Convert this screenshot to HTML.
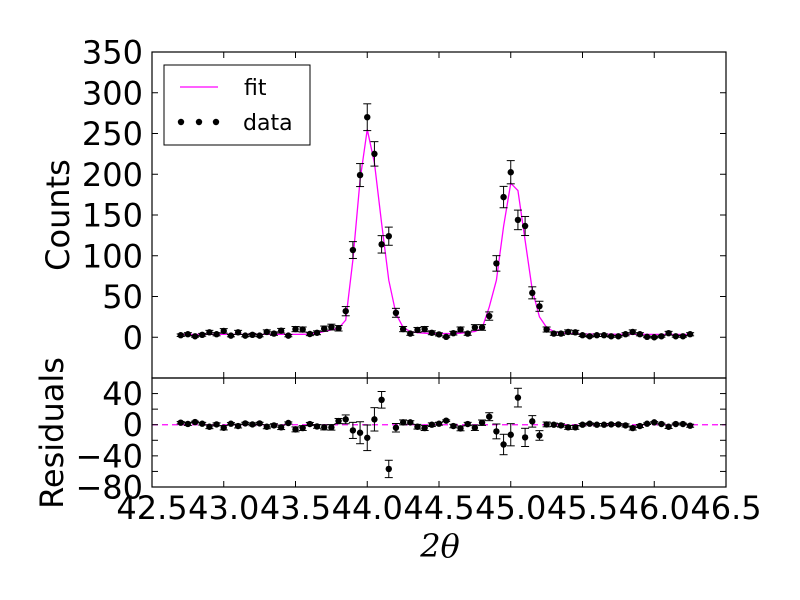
<!DOCTYPE html>
<html><head><meta charset="utf-8">
<style>
html,body{margin:0;padding:0;background:#fff;}
svg{display:block;font-family:"DejaVu Sans","Liberation Sans",sans-serif;}
</style></head>
<body>
<svg id="chart" width="800" height="600" viewBox="0 0 800 600" xmlns="http://www.w3.org/2000/svg">
<rect x="0" y="0" width="800" height="600" fill="#fff"/>
</svg>
<script>
const xStart = 42.7;
const xStep = 0.05;
const counts = [2.5,3.7,1.2,3,6,3.7,7.8,2,6,2,3,2,6.5,4.5,8,2,10,9.5,4,5.5,10.5,12.5,11,32,107,199,270,225,114,124,30,10,4.5,9,10,5.5,3.5,0.5,5,9.5,4.5,12,12,26,90.6,172,202.5,144,136.5,54.5,38,9.5,4.5,4.5,6.5,6,2.5,1.2,2.5,2.5,1.2,1.2,3.7,6.5,3.7,0.5,0,1.2,5,1.2,1.2,3.7];
const fitVals = [3.5,3.5,3.5,3.5,3.5,3.5,3.5,3.5,3.5,3.5,3.5,3.5,3.5,3.5,3.5,3.5,3.5,3.6,3.8,5,7,9,11,21,95,193,255,214,140,70,29,12,7,5.5,5,4.5,4.5,4.5,4.5,5,6,7,11,37,70,136,189,180,119,58,25,12,7,5,4.5,4.2,4,4,4,3.8,3.8,3.7,3.7,3.6,3.6,3.5,3.5,3.5,3.5,3.5,3.5,3.5];
const residuals = [2.6,1,3.4,1.3,-2.6,0.4,-3.9,1.3,-1.7,1.7,0.4,1.7,-2.6,-0.9,-3.4,2.2,-6,-4.3,0.9,-2.2,-3.4,-3.4,4.7,6.9,-7.3,-10.3,-16.8,6.9,32,-56.8,-3.9,3,3,-2.6,-4.3,0,1.3,5.2,-1.7,-4.7,0.9,-3.9,2.6,10.3,-8.6,-25.4,-12.9,34.8,-16.3,4.3,-13.8,0.4,0,-0.9,-3.4,-3.4,0,1.3,0,0,0.4,0.4,-0.9,-4.3,-1.7,1.3,3,0.9,-2.6,0.9,0.9,-1.3];
const xTickLabels = ["42.5","43.0","43.5","44.0","44.5","45.0","45.5","46.0","46.5"];
const mainTickLabels = ["0","50","100","150","200","250","300","350"];
const resTickLabels = ["\u221280","\u221240","0","40"];

const svg = document.getElementById('chart');
const NS = 'http://www.w3.org/2000/svg';
function mk(tag, attrs, parent){
  const e = document.createElementNS(NS, tag);
  for (const k in attrs) e.setAttribute(k, attrs[k]);
  (parent||svg).appendChild(e);
  return e;
}
const L = 152, R = 726, T1 = 52, B1 = 378, T2 = 378, B2 = 487;
const xMin = 42.5, xMax = 46.5;
function xs(v){ return L + (v - xMin) / (xMax - xMin) * (R - L); }
function ys1(v){ return B1 - (v - (-50)) / 400 * (B1 - T1); }
function ys2(v){ return B2 - (v - (-80)) / 140 * (B2 - T2); }
const xVals = counts.map((_, i) => xStart + xStep * i);

const gMain = mk('g', {});


let pts = xVals.map((x, i) => xs(x).toFixed(2) + ',' + ys1(fitVals[i]).toFixed(2)).join(' ');
const fitLine = mk('polyline', {points: pts, fill: 'none', stroke: '#ff00ff', 'stroke-width': 1.3}, gMain);


counts.forEach((c, i) => {
  const x = xs(xVals[i]), e = Math.sqrt(Math.max(c, 1));
  const g = mk('g', {stroke: '#000', 'stroke-width': 1}, gMain);
  
  
  const y1 = ys1(c + e), y2 = ys1(c - e);
  mk('line', {x1: x, x2: x, y1: y1, y2: y2}, g);
  mk('line', {x1: x - 4, x2: x + 4, y1: y1, y2: y1}, g);
  mk('line', {x1: x - 4, x2: x + 4, y1: y2, y2: y2}, g);
  mk('circle', {cx: x, cy: ys1(c), r: 3.2, fill: '#000', stroke: 'none'}, g);
});

const gRes = mk('g', {});


const zl = mk('line', {x1: L, x2: R, y1: ys2(0), y2: ys2(0), stroke: '#ff00ff', 'stroke-width': 1.3, 'stroke-dasharray': '6,4'}, gRes);


residuals.forEach((r, i) => {
  const x = xs(xVals[i]), e = Math.sqrt(Math.max(counts[i], 1));
  const g = mk('g', {stroke: '#000', 'stroke-width': 1}, gRes);
  
  
  const y1 = ys2(r + e), y2 = ys2(r - e);
  mk('line', {x1: x, x2: x, y1: y1, y2: y2}, g);
  mk('line', {x1: x - 4, x2: x + 4, y1: y1, y2: y1}, g);
  mk('line', {x1: x - 4, x2: x + 4, y1: y2, y2: y2}, g);
  mk('circle', {cx: x, cy: ys2(r), r: 3.2, fill: '#000', stroke: 'none'}, g);
});

[[T1, B1, 'main-axes-frame'], [T2, B2, 'residual-axes-frame']].forEach(a => {
  const r = mk('rect', {x: L, y: a[0], width: R - L, height: a[1] - a[0], fill: 'none', stroke: '#000', 'stroke-width': 1.2});
  
  
});

const gTicks = mk('g', {stroke: '#000', 'stroke-width': 1});


xTickLabels.forEach((lab, i) => {
  const x = xs(parseFloat(lab));
  [[T1, B1], [T2, B2]].forEach(p => {
    mk('line', {x1: x, x2: x, y1: p[0], y2: p[0] + 6}, gTicks);
    mk('line', {x1: x, x2: x, y1: p[1], y2: p[1] - 6}, gTicks);
  });
  const t = mk('text', {x: x, y: 519, 'text-anchor': 'middle', 'font-size': 32, fill: '#000'});
  
  
  t.textContent = lab;
});
mainTickLabels.forEach(lab => {
  const y = ys1(parseFloat(lab));
  mk('line', {x1: L, x2: L + 6, y1: y, y2: y}, gTicks);
  mk('line', {x1: R, x2: R - 6, y1: y, y2: y}, gTicks);
  const t = mk('text', {x: 143, y: y + 11.5, 'text-anchor': 'end', 'font-size': 32, fill: '#000'});
  
  
  t.textContent = lab;
});
for (let v = -60; v <= 40; v += 20) {
  const y = ys2(v);
  mk('line', {x1: L, x2: L + 6, y1: y, y2: y}, gTicks);
  mk('line', {x1: R, x2: R - 6, y1: y, y2: y}, gTicks);
}
resTickLabels.forEach(lab => {
  const y = ys2(parseFloat(lab.replace('\u2212', '-')));
  const t = mk('text', {x: 143, y: y + 11.5, 'text-anchor': 'end', 'font-size': 32, fill: '#000'});
  
  
  t.textContent = lab;
});

let t = mk('text', {x: 0, y: 0, 'text-anchor': 'middle', 'font-size': 32, fill: '#000', transform: 'translate(69,215) rotate(-90)'});


t.textContent = 'Counts';
t = mk('text', {x: 0, y: 0, 'text-anchor': 'middle', 'font-size': 32, fill: '#000', transform: 'translate(63,433) rotate(-90)'});


t.textContent = 'Residuals';
t = mk('text', {x: 440, y: 557, 'text-anchor': 'middle', 'font-size': 32, 'font-style': 'italic', 'font-family': '"DejaVu Serif","Liberation Serif",serif', fill: '#000'});


t.textContent = '2θ';

const gLeg = mk('g', {});


mk('rect', {x: 164, y: 65, width: 146, height: 80, fill: '#fff', stroke: '#000', 'stroke-width': 1}, gLeg);
const le1 = mk('g', {}, gLeg);


mk('line', {x1: 180, x2: 218, y1: 87, y2: 87, stroke: '#ff00ff', 'stroke-width': 1.3}, le1);
let lt = mk('text', {x: 244, y: 95, 'font-size': 22, fill: '#000'}, le1);
lt.textContent = 'fit';
const le2 = mk('g', {}, gLeg);


[181, 199, 216].forEach(cx => mk('circle', {cx: cx, cy: 122, r: 3.2, fill: '#000'}, le2));
lt = mk('text', {x: 243, y: 130, 'font-size': 22, fill: '#000'}, le2);
lt.textContent = 'data';
</script>
</body></html>
